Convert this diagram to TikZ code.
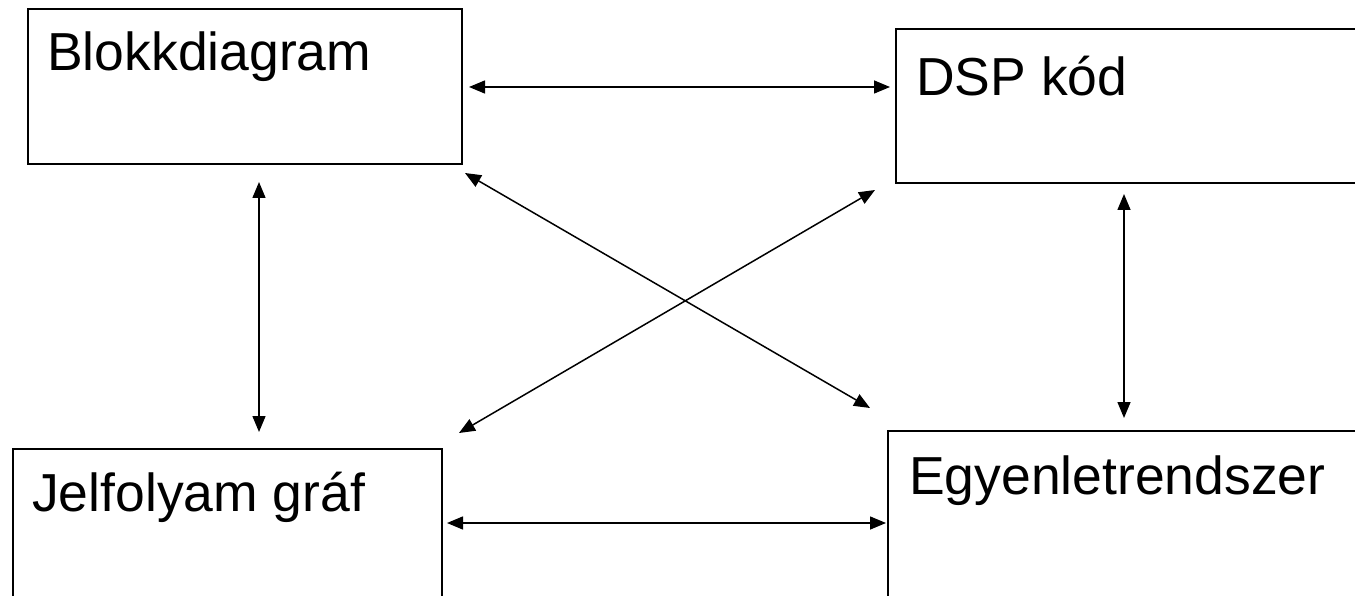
\documentclass[tikz,border=0pt]{standalone}
\usepackage{fontspec}
\setmainfont{Liberation Sans}
\usetikzlibrary{arrows.meta}
\begin{document}
\begin{tikzpicture}[x=1pt,y=-1pt,
  box/.style={draw=black,line width=2pt,anchor=north west,inner sep=0pt},
  lbl/.style={anchor=base west,inner sep=0pt,font=\fontsize{53.5}{64}\selectfont},
  conn/.style={line width=1.5pt,{Triangle[length=16pt,width=13pt]}-{Triangle[length=16pt,width=13pt]}}]
\useasboundingbox (0,0) rectangle (1355,596);
\clip (0,0) rectangle (1355,596);
\fill[white] (0,0) rectangle (1355,596);
% boxes
\node[box,minimum width=434pt,minimum height=155pt] (blokk) at (27,8) {};
\node[box,minimum width=480pt,minimum height=154pt] (dsp) at (895,28) {};
\node[box,minimum width=429pt,minimum height=170pt] (jel) at (12,448) {};
\node[box,minimum width=480pt,minimum height=180pt] (egy) at (887,430) {};
% labels
\node[lbl] (tblokk) at (47,71) {Blokkdiagram};
\node[lbl] (tdsp) at (916,96) {DSP kód};
\node[lbl] (tjel) at (32,511) {Jelfolyam gráf};
\node[lbl] (tegy) at (909,494) {Egyenletrendszer};
% connector end points
\coordinate (h1a) at (469,87);
\coordinate (h1b) at (890,87);
\coordinate (h2a) at (447,523);
\coordinate (h2b) at (886,523);
\coordinate (v1a) at (259,182);
\coordinate (v1b) at (259,432);
\coordinate (v2a) at (1124,194);
\coordinate (v2b) at (1124,418);
\coordinate (d1a) at (465,173);
\coordinate (d1b) at (870,408);
\coordinate (d2a) at (875,190);
\coordinate (d2b) at (459,433);
% connectors
\draw[conn] (h1a) -- (h1b);
\draw[conn] (h2a) -- (h2b);
\draw[conn] (v1a) -- (v1b);
\draw[conn] (v2a) -- (v2b);
\draw[conn] (d1a) -- (d1b);
\draw[conn] (d2a) -- (d2b);
\end{tikzpicture}
\end{document}
